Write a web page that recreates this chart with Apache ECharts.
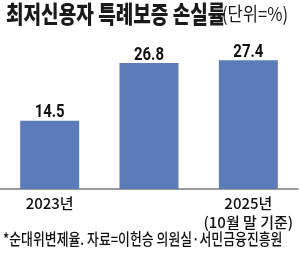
<!DOCTYPE html>
<html>
<head>
<meta charset="utf-8">
<script src="https://cdn.jsdelivr.net/npm/echarts@6/dist/echarts.min.js"></script>
<style>
  html, body { margin: 0; padding: 0; background: #fff; }
  #main { width: 300px; height: 254px; }
</style>
</head>
<body>
<div id="main"></div>
<script>
// 데이터
var years = ['2023년', '2024년', '2025년\n(10월 말 기준)'];
var lossRate = [14.5, 26.8, 27.4];

var myChart = echarts.init(document.getElementById('main'));

var option = {
    animation: false,
    grid: {
        left: -4,
        right: 2,
        top: 48,
        bottom: 65
    },
    graphic: [
        {
            type: 'text',
            x: 6,
            y: 2,
            scaleX: 0.795,
            style: {
                text: '최저신용자 특례보증 손실률',
                fontSize: 24,
                fontWeight: 900,
                fontFamily: 'Noto Sans CJK KR',
                fill: '#1a1a1a'
            }
        },
        {
            type: 'text',
            x: 222,
            y: 4,
            scaleX: 0.87,
            style: {
                text: '(단위=%)',
                fontSize: 19,
                fontFamily: 'Noto Sans CJK KR',
                fill: '#1a1a1a'
            }
        },
        {
            type: 'text',
            x: 3,
            y: 231,
            scaleX: 0.805,
            style: {
                text: '*순대위변제율. 자료=이헌승 의원실·서민금융진흥원',
                fontSize: 16,
                fontWeight: 500,
                fontFamily: 'Noto Sans CJK KR',
                fill: '#111'
            }
        }
    ],
    xAxis: {
        type: 'category',
        data: years,
        axisTick: { show: false },
        axisLine: {
            lineStyle: { color: '#7a7a7a', width: 1.5 }
        },
        axisLabel: {
            margin: 5,
            fontSize: 15,
            lineHeight: 19,
            color: '#111',
            fontWeight: 500,
            fontFamily: 'Noto Sans CJK KR'
        }
    },
    yAxis: {
        type: 'value',
        min: 0,
        max: 30,
        show: false
    },
    series: [
        {
            type: 'bar',
            data: lossRate,
            barWidth: 59,
            itemStyle: { color: '#5b7cb8' }
        },
        {
            // 값 라벨 (좁은 굵은 글꼴 흉내)
            type: 'custom',
            data: lossRate.map(function (v, i) { return [i, v]; }),
            renderItem: function (params, api) {
                var p = api.coord([api.value(0), api.value(1)]);
                return {
                    type: 'text',
                    x: p[0],
                    y: p[1] + 1,
                    scaleX: 0.83,
                    style: {
                        text: api.value(1).toFixed(1),
                        fontSize: 18,
                        fontWeight: 'bold',
                        fontFamily: 'Roboto',
                        fill: '#111',
                        align: 'center',
                        verticalAlign: 'bottom'
                    }
                };
            }
        }
    ]
};

myChart.setOption(option);
</script>
</body>
</html>
